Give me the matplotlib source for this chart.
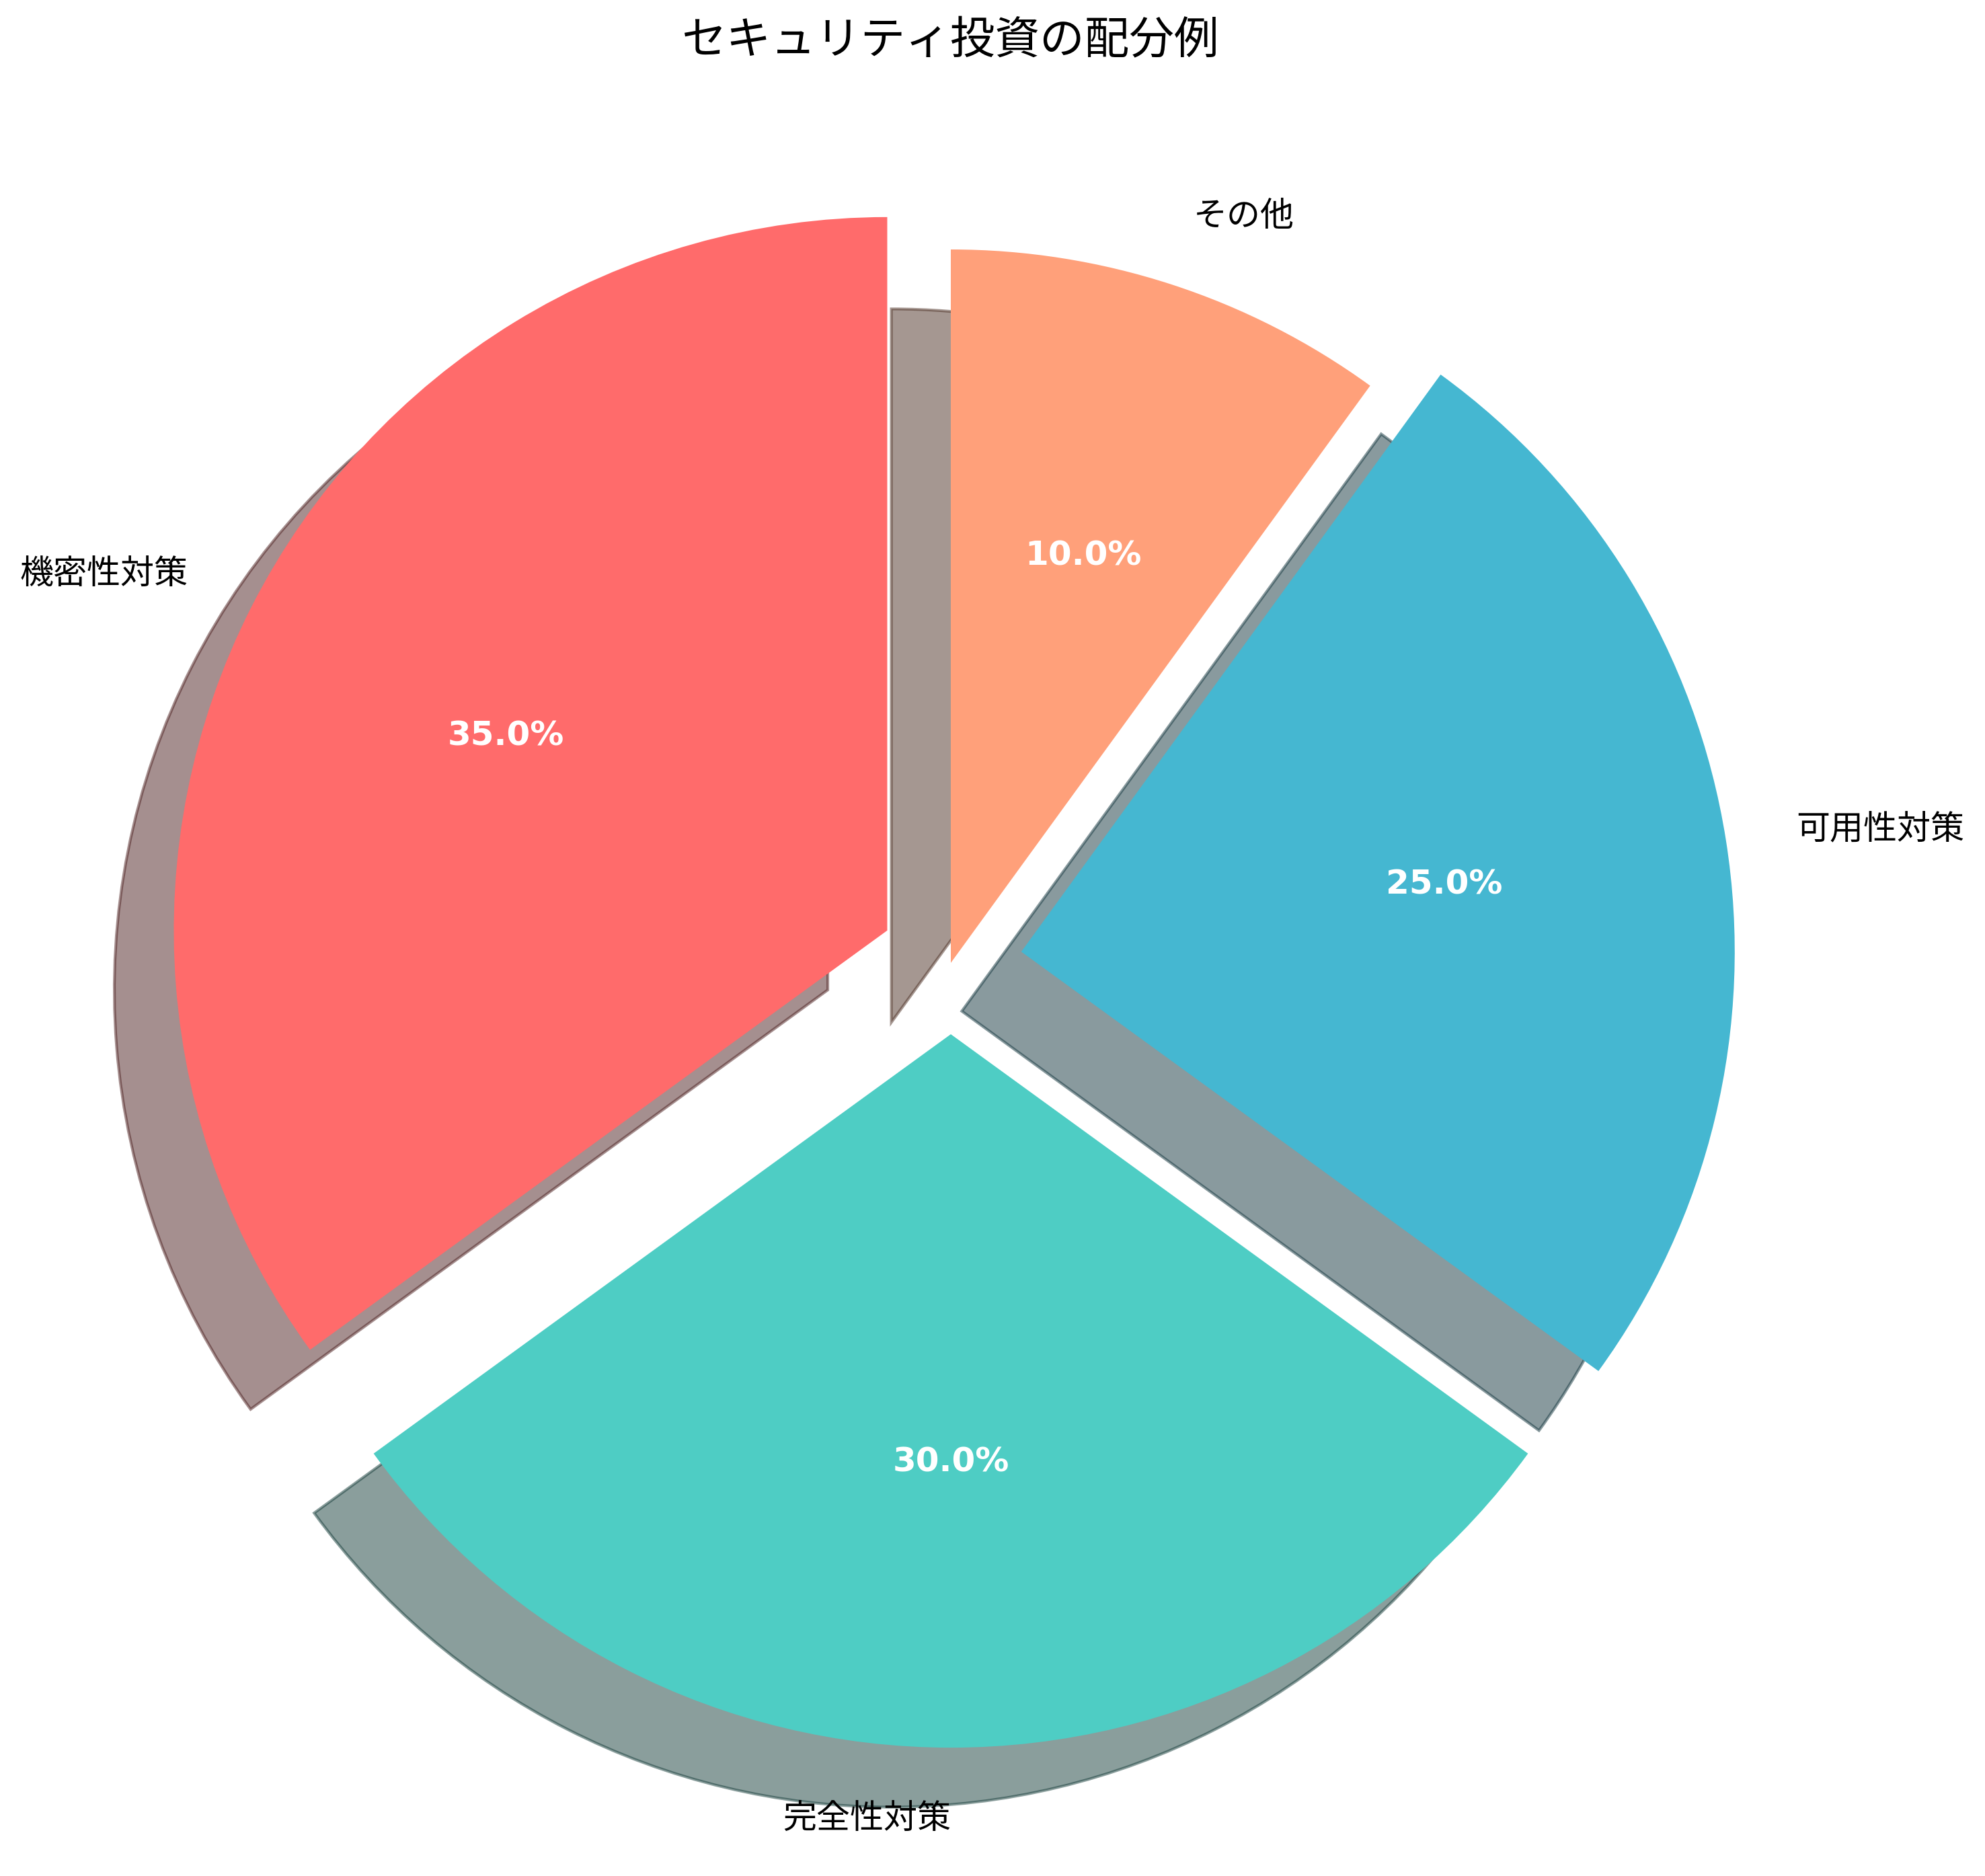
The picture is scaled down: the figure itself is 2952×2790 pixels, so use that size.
import matplotlib
matplotlib.use("Agg")
import matplotlib.pyplot as plt

plt.rcParams['font.family'] = ['DejaVu Sans', 'Noto Sans CJK JP']

categories = ['機密性対策', '完全性対策', '可用性対策', 'その他']
values = [35, 30, 25, 10]
explode = [0.1, 0.1, 0.1, 0]
colors = ['#FF6B6B', '#4ECDC4', '#45B7D1', '#FFA07A']
title = 'セキュリティ投資の配分例'

W, H = 2952, 2790
dpi = 300
fig = plt.figure(figsize=(W / dpi, H / dpi), dpi=dpi)

R = 1061.0
cx, cy = 1414.0, 1432.0
side = 2.5 * R
ax = fig.add_axes([(cx - side / 2) / W, (H - cy - side / 2) / H, side / W, side / H])

wedges, texts, autotexts = ax.pie(
    values, labels=categories, colors=colors, explode=explode,
    autopct='%1.1f%%', startangle=90, shadow=True,
    textprops={'fontsize': 12})
for t in autotexts:
    t.set_color('white')
    t.set_fontweight('bold')
    t.set_fontsize(12)
# labels lying straight below the centre are right-aligned in the reference
for t, w in zip(texts, wedges):
    x, _ = t.get_position()
    if abs(x - w.center[0]) < 1e-6:
        t.set_horizontalalignment('right')
ax.set_title(title, fontsize=16)
ax.axis('equal')
ax.set_xlim(-1.25, 1.25)
ax.set_ylim(-1.25, 1.25)

fig.savefig('out.png', dpi=dpi)
